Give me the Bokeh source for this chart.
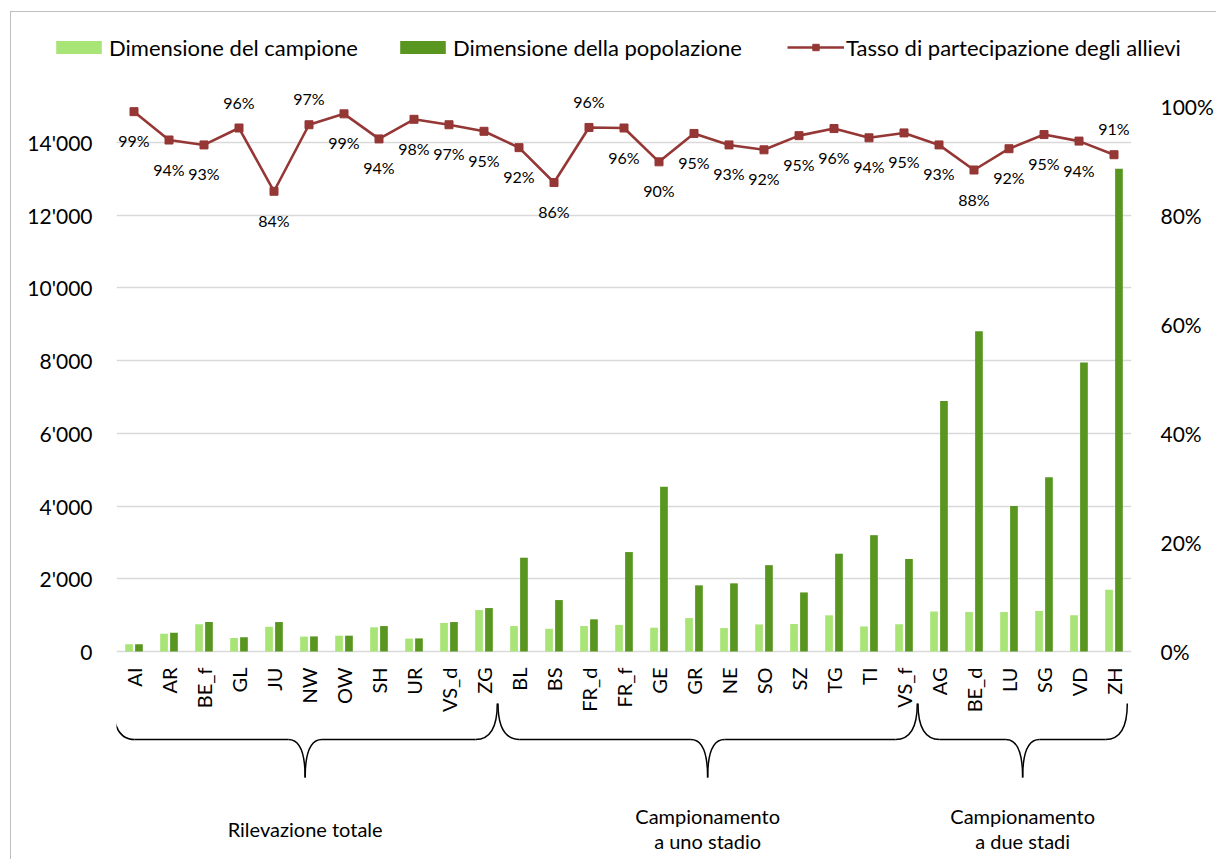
import math
from bokeh.plotting import figure
from bokeh.layouts import column
from bokeh.models import (ColumnDataSource, FactorRange, Range1d, LinearAxis, FixedTicker,
                          NumeralTickFormatter, Legend, LegendItem)
from bokeh.transform import dodge
from bokeh.core.properties import value
from bokeh.embed import file_html
from bokeh.resources import INLINE

# ---------------- data ----------------
cantons = ["AI", "AR", "BE_f", "GL", "JU", "NW", "OW", "SH", "UR", "VS_d", "ZG",
           "BL", "BS", "FR_d", "FR_f", "GE", "GR", "NE", "SO", "SZ", "TG", "TI", "VS_f",
           "AG", "BE_d", "LU", "SG", "VD", "ZH"]
sample_size = [200, 490, 750, 370, 680, 410, 435, 665, 355, 785, 1140,
               700, 625, 700, 730, 655, 920, 645, 745, 755, 995, 690, 750,
               1100, 1085, 1085, 1115, 1000, 1700]
population_size = [200, 515, 810, 390, 810, 415, 435, 700, 360, 810, 1195,
                   2580, 1415, 885, 2735, 4530, 1820, 1875, 2375, 1625, 2690, 3200, 2545,
                   6890, 8810, 4000, 4790, 7950, 13280]
participation = [0.990, 0.938, 0.929, 0.960, 0.844, 0.966, 0.986, 0.940, 0.976, 0.966, 0.954,
                 0.924, 0.860, 0.961, 0.960, 0.898, 0.950, 0.929, 0.920, 0.946, 0.959, 0.942, 0.951,
                 0.929, 0.883, 0.922, 0.948, 0.936, 0.911]
labels_above = ["GL", "NW", "FR_d", "ZH"]
group_names = ["Rilevazione totale", "Campionamento\na uno stadio", "Campionamento\na due stadi"]
group_sizes = [11, 12, 6]
left_ticks = [0, 2000, 4000, 6000, 8000, 10000, 12000, 14000]
right_ticks = [0.0, 0.2, 0.4, 0.6, 0.8, 1.0]
legend_names = ["Dimensione del campione", "Dimensione della popolazione",
                "Tasso di partecipazione degli allievi"]

# ---------------- styling / layout (page pixel geometry) ----------------
FONT = "Lato"
C_SAMPLE = "#A9E476"
C_POP = "#589620"
C_LINE = "#953735"
C_GRID = "#D9D9D9"
C_TEXT = "black"

OX, OY = 11, 12                     # content origin inside the chart border
PAGE_W, PAGE_H = 1216, 859
LEG_BOTTOM = 75                     # page y where the main figure starts
FRAME_L, FRAME_R = 116, 1140        # page x of the plot frame
ZERO_PY, TOP_PY = 651.0, 105.7      # page y of 0 and 15000 / 100 %

W = PAGE_W - OX
H_LEG = LEG_BOTTOM - OY
H_MAIN = PAGE_H - LEG_BOTTOM
PXU = (ZERO_PY - TOP_PY) / 15000.0
Y0 = -(PAGE_H - ZERO_PY) / PXU
Y1 = (ZERO_PY - LEG_BOTTOM) / PXU

src = ColumnDataSource(dict(
    cat=cantons, sample=sample_size, pop=population_size, pct=participation,
    lab=[f"{round(v * 100)}%" for v in participation],
    off=[-26 if c in labels_above else 29 for c in cantons],
))

p = figure(width=W, height=H_MAIN, x_range=FactorRange(*cantons), y_range=Range1d(Y0, Y1),
           output_backend="svg", toolbar_location=None,
           min_border_left=FRAME_L - OX, min_border_right=PAGE_W - FRAME_R,
           min_border_top=0, min_border_bottom=0)
p.frame_align = False
p.x_range.range_padding = 0
p.outline_line_color = None
p.extra_y_ranges = {"pct": Range1d(Y0 / 15000.0, Y1 / 15000.0),
                    "px": Range1d(PAGE_H, LEG_BOTTOM)}

# axes
p.xaxis.visible = False
p.xgrid.visible = False
p.yaxis.ticker = FixedTicker(ticks=left_ticks)
p.yaxis.major_label_overrides = {t: f"{t:,}".replace(",", "'") for t in left_ticks}
p.yaxis.axis_line_color = None
p.yaxis.major_tick_line_color = None
p.yaxis.minor_tick_line_color = None
p.yaxis.major_label_standoff = 18
p.yaxis.major_label_text_font = FONT
p.yaxis.major_label_text_font_size = "21px"
p.yaxis.major_label_text_color = C_TEXT
p.ygrid.ticker = FixedTicker(ticks=left_ticks)
p.ygrid.grid_line_color = C_GRID
p.ygrid.grid_line_width = 1.3

ax_r = LinearAxis(y_range_name="pct", ticker=FixedTicker(ticks=right_ticks),
                  formatter=NumeralTickFormatter(format="0%"))
ax_r.axis_line_color = None
ax_r.major_tick_line_color = None
ax_r.minor_tick_line_color = None
ax_r.major_label_standoff = 23
ax_r.major_label_text_font = FONT
ax_r.major_label_text_font_size = "21px"
ax_r.major_label_text_color = C_TEXT
p.add_layout(ax_r, "right")

# bars
p.vbar(x=dodge("cat", -0.142, range=p.x_range), top="sample", width=0.22, bottom=0,
       source=src, fill_color=C_SAMPLE, line_color=None)
p.vbar(x=dodge("cat", 0.142, range=p.x_range), top="pop", width=0.22, bottom=0,
       source=src, fill_color=C_POP, line_color=None)

# participation line
p.line(x="cat", y="pct", source=src, y_range_name="pct", line_color=C_LINE, line_width=2.6)
p.scatter(x="cat", y="pct", source=src, y_range_name="pct", marker="square", size=8,
          fill_color=C_LINE, line_color=C_LINE)
p.text(x="cat", y="pct", text="lab", source=src, y_range_name="pct", y_offset="off",
       text_align="center", text_baseline="middle", text_font=value(FONT),
       text_font_size="16px", text_color=C_TEXT)

# category labels (vertical)
p.text(x="cat", y=667, text="cat", source=src,
       y_range_name="px", angle=math.pi / 2, text_align="right", text_baseline="middle",
       text_font=value(FONT), text_font_size="20px", text_color=C_TEXT)

# group braces and labels
BR_TOP, BR_MID, BR_TIP = 703, 739, 777
qx0, qy0, qx1, qy1, qcx, qcy = [], [], [], [], [], []
sx0, sx1, sy = [], [], []
gx = []
start = 0
for n in group_sizes:
    x0 = start - 0.1
    x1 = start + n - 0.12
    xm = (x0 + x1) / 2
    rc, rt = 0.62, 0.48
    for (a, b, c) in [(x0, x0 + rc, x0), (x1, x1 - rc, x1)]:
        qx0.append(a); qy0.append(BR_TOP); qx1.append(b); qy1.append(BR_MID); qcx.append(c); qcy.append(BR_MID)
    for a in (xm - rt, xm + rt):
        qx0.append(a); qy0.append(BR_MID); qx1.append(xm); qy1.append(BR_TIP); qcx.append(xm); qcy.append(BR_MID)
    sx0 += [x0 + rc, xm + rt]; sx1 += [xm - rt, x1 - rc]; sy += [BR_MID, BR_MID]
    gx.append(xm)
    start += n

p.quadratic(x0=qx0, y0=qy0, x1=qx1, y1=qy1, cx=qcx, cy=qcy, y_range_name="px",
            line_color="black", line_width=1.5)
p.segment(x0=sx0, y0=sy, x1=sx1, y1=sy, y_range_name="px", line_color="black", line_width=1.5)
p.text(x=gx, y=[828] * len(gx), text=group_names, y_range_name="px",
       text_align="center", text_baseline="middle", text_font=value(FONT),
       text_font_size="20px", text_line_height=1.08, text_color=C_TEXT)

# ---------------- legend strip ----------------
lg = figure(width=W, height=H_LEG, x_range=Range1d(OX, PAGE_W), y_range=Range1d(LEG_BOTTOM, OY),
            output_backend="svg", toolbar_location=None,
            min_border_left=0, min_border_right=0, min_border_top=0, min_border_bottom=0)
lg.frame_align = False
lg.axis.visible = False
lg.grid.visible = False
lg.outline_line_color = None
OFF = [-1000, -990]   # swatch-only renderers, placed outside the visible range
e_s = lg.vbar(x=OFF[:1], top=[0], width=1, fill_color=C_SAMPLE, line_color=None)
e_p = lg.vbar(x=OFF[:1], top=[0], width=1, fill_color=C_POP, line_color=None)
e_l = lg.line(x=OFF, y=[0, 0], line_color=C_LINE, line_width=2.6)
e_m = lg.scatter(x=OFF[:1], y=[0], marker="square", size=8, fill_color=C_LINE, line_color=C_LINE)

LEG_CY = 47.5
LABEL_H = 26
leg_x = [50, 394, 787]
leg_items = [[e_s], [e_p], [e_l, e_m]]
for name, rends, x in zip(legend_names, leg_items, leg_x):
    lgd = Legend(items=[LegendItem(label=name, renderers=rends)],
                 location=(x - OX, LEG_BOTTOM - (LEG_CY + LABEL_H / 2)),
                 glyph_width=57, glyph_height=16, label_height=LABEL_H,
                 label_standoff=2, padding=0, margin=0,
                 border_line_alpha=0, background_fill_alpha=0,
                 label_text_font=FONT, label_text_font_size="22px", label_text_color=C_TEXT)
    lg.add_layout(lgd, "center")

layout = column(lg, p, spacing=0,
                styles={"margin-left": "10px", "margin-top": "11px",
                        "border-left": "1px solid #BFBFBF", "border-top": "1px solid #BFBFBF"})

open("out.html", "w").write(file_html(layout, INLINE))
